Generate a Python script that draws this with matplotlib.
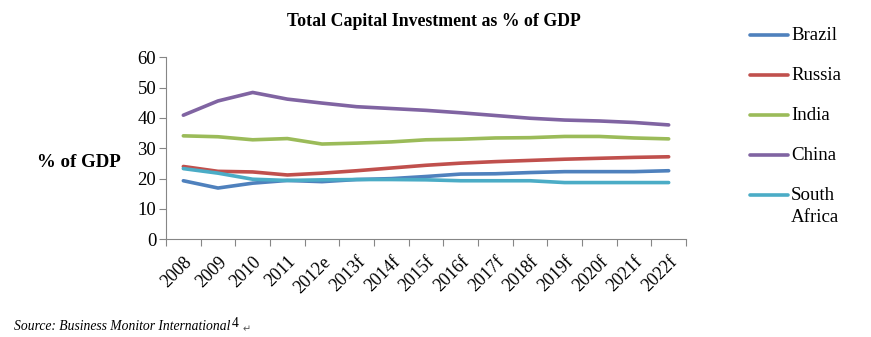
import matplotlib
matplotlib.use('Agg')
import matplotlib.pyplot as plt
from matplotlib.lines import Line2D
import numpy as np

plt.rcParams['font.family'] = ['Liberation Serif', 'DejaVu Serif']

###############################################################################

years = ['2008', '2009', '2010', '2011', '2012e', '2013f', '2014f', '2015f',
         '2016f', '2017f', '2018f', '2019f', '2020f', '2021f', '2022f']

brazil = [19.3, 16.9, 18.5, 19.4, 19.0, 19.7, 20.0, 20.7,
          21.5, 21.6, 22.0, 22.3, 22.3, 22.3, 22.6]
russia = [24.0, 22.4, 22.2, 21.2, 21.8, 22.6, 23.5, 24.4,
          25.1, 25.6, 26.0, 26.4, 26.7, 27.0, 27.2]
india = [34.1, 33.8, 32.8, 33.2, 31.4, 31.7, 32.1, 32.8,
         33.0, 33.4, 33.5, 33.9, 33.9, 33.4, 33.1]
china = [40.9, 45.6, 48.4, 46.2, 44.9, 43.7, 43.1, 42.5,
         41.7, 40.8, 39.9, 39.3, 39.0, 38.5, 37.7]
south_africa = [23.3, 21.8, 19.8, 19.4, 19.6, 19.7, 19.7, 19.6,
                19.3, 19.3, 19.3, 18.7, 18.7, 18.7, 18.7]

series = [('Brazil', brazil, '#4F81BD'),
          ('Russia', russia, '#C0504D'),
          ('India', india, '#9BBB59'),
          ('China', china, '#8064A2'),
          ('South\nAfrica', south_africa, '#4BACC6')]

###############################################################################

fig = plt.figure(figsize=(8.71, 3.37), dpi=100)
ax = fig.add_axes([0.1906, 0.2899, 0.597, 0.5402])

x = np.arange(len(years))
for name, vals, col in series:
    ax.plot(x, vals, color=col, linewidth=2.6, solid_capstyle='round')

ax.set_xlim(-0.5, len(years) - 0.5)
ax.set_ylim(0, 60)
ax.set_yticks(range(0, 61, 10))
ax.tick_params(axis='y', labelsize=13.5, color='#868686', length=5,
               labelcolor='black', pad=2)

# tick marks between categories, labels centred on them
ax.set_xticks(np.arange(-0.5, len(years)), minor=False)
ax.set_xticklabels([])
ax.set_xticks(x, minor=True)
ax.set_xticklabels(years, minor=True, rotation=45, ha='right',
                   rotation_mode='anchor', fontsize=13)
ax.tick_params(axis='x', which='major', color='#868686', length=5)
ax.tick_params(axis='x', which='minor', length=0, pad=10)

for s in ['top', 'right']:
    ax.spines[s].set_visible(False)
for s in ['left', 'bottom']:
    ax.spines[s].set_color('#868686')

fig.text(0.498, 0.935, 'Total Capital Investment as % of GDP',
         ha='center', va='center', fontsize=12.8, fontweight='bold')
fig.text(0.042, 0.518, '% of GDP', ha='left', va='center',
         fontsize=13.6, fontweight='bold')

# legend drawn by hand so the two-line label hangs below its line
for i, (name, vals, col) in enumerate(series):
    yy = 1 - (35 + 40 * i) / 337
    fig.add_artist(Line2D([750 / 871, 788 / 871], [yy, yy], color=col,
                          linewidth=2.6, solid_capstyle='round'))
    fig.text(791 / 871, yy, name.split('\n')[0], ha='left', va='center',
             fontsize=13.6)
    if '\n' in name:
        fig.text(791 / 871, yy - 22 / 337, name.split('\n')[1], ha='left',
                 va='center', fontsize=13.6)

fig.text(0.016, 0.031, 'Source: Business Monitor International',
         ha='left', va='center', fontsize=9.8, style='italic')
fig.text(0.2665, 0.041, '4', ha='left', va='center', fontsize=9.8)
fig.text(0.279, 0.024, '\u21b5', ha='left', va='center', fontsize=7,
         color='#555555', family=['DejaVu Sans'])

fig.savefig('out.png', dpi=100)
